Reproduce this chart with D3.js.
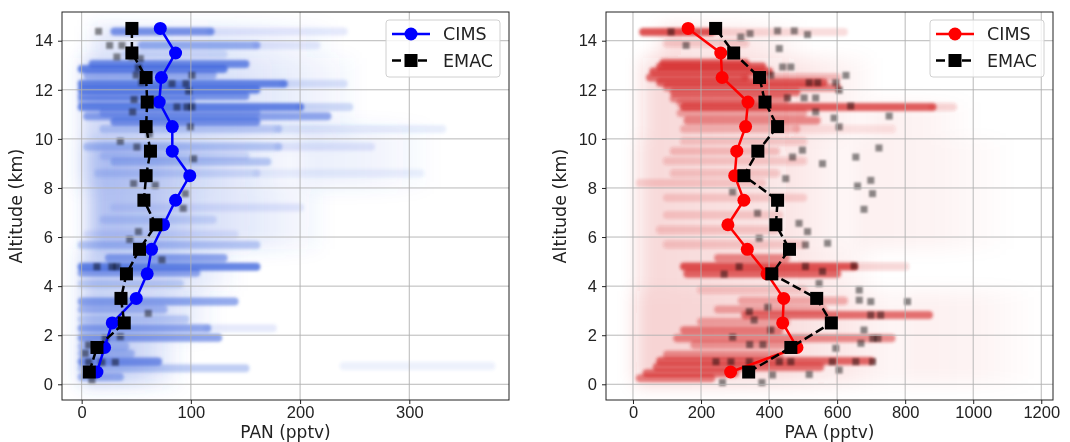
<!DOCTYPE html>
<html>
<head>
<meta charset="utf-8">
<script src="https://cdn.jsdelivr.net/npm/d3@7"></script>
<style>
  body { margin: 0; background: #fff; }
  svg { font-family: "DejaVu Sans", sans-serif; }
</style>
</head>
<body>
<svg id="chart" width="1070" height="442"></svg>
<script>
// profile altitudes (km)
const altitudes = [0.5, 1.5, 2.5, 3.5, 4.5, 5.5, 6.5, 7.5, 8.5, 9.5, 10.5, 11.5, 12.5, 13.5, 14.5];

// PAN profiles (pptv)
const panCims = [14, 21, 28, 50, 60, 64, 75, 86, 99, 83, 83, 71, 73, 86, 72];
const panEmac = [7, 14, 39, 36, 41, 53, 68, 57, 59, 63, 59, 60, 59, 46, 46];

// PAA profiles (pptv)
const paaCims = [287, 482, 440, 443, 394, 336, 279, 326, 299, 305, 331, 338, 262, 258, 162];
const paaEmac = [340, 464, 583, 540, 408, 460, 420, 425, 326, 367, 425, 388, 372, 296, 243];

// CIMS flight legs: [altitude, from, to, density]
const panLegs = [
  [14.38, 30, 118, 0.75], [14.38, 118, 240, 0.15], [13.82, 55, 160, 0.55], [13.82, 160, 215, 0.15],
  [13.45, 40, 130, 0.2], [13.05, 10, 150, 0.8], [12.85, 0, 130, 0.85], [12.6, 5, 120, 0.5],
  [12.25, 0, 185, 0.85], [12.25, 185, 240, 0.2], [12.0, 0, 160, 0.85], [11.75, 0, 150, 0.7],
  [11.55, 0, 100, 0.5], [11.3, 0, 200, 0.85], [11.3, 200, 245, 0.25], [11.05, 20, 160, 0.45],
  [10.92, 5, 225, 0.6], [10.7, 30, 160, 0.75], [10.4, 20, 180, 0.3], [10.4, 180, 330, 0.12],
  [9.68, 5, 180, 0.35], [9.68, 180, 265, 0.15], [9.3, 20, 150, 0.2], [9.07, 30, 170, 0.35],
  [8.6, 15, 160, 0.2], [8.6, 160, 310, 0.1], [7.2, 30, 200, 0.15], [6.7, 20, 120, 0.2],
  [6.1, 5, 140, 0.15], [5.68, 0, 160, 0.35], [5.15, 25, 130, 0.6], [4.79, 0, 160, 0.85],
  [4.55, 0, 105, 0.6], [4.1, 0, 90, 0.25], [3.37, 0, 140, 0.6], [3.05, 0, 75, 0.45],
  [2.65, 0, 95, 0.3], [2.28, 0, 115, 0.6], [2.28, 115, 175, 0.15], [1.9, 0, 125, 0.65],
  [1.55, 0, 40, 0.4], [1.25, 0, 45, 0.4], [0.93, 0, 70, 0.75], [0.65, 0, 150, 0.35],
  [0.75, 240, 375, 0.1], [0.3, 0, 35, 0.5]
];
const paaLegs = [
  [14.35, 30, 230, 0.85], [14.35, 230, 620, 0.15], [13.9, 100, 330, 0.2], [13.1, 90, 330, 0.75],
  [12.95, 80, 380, 0.8], [12.75, 60, 400, 0.8], [12.5, 50, 330, 0.7], [12.5, 330, 600, 0.3],
  [12.3, 80, 560, 0.75], [12.1, 100, 600, 0.6], [11.9, 120, 480, 0.7], [11.65, 120, 450, 0.55],
  [11.45, 140, 360, 0.45], [11.3, 150, 880, 0.8], [11.3, 880, 940, 0.2], [11.05, 140, 500, 0.4],
  [10.75, 160, 540, 0.55], [10.4, 150, 480, 0.3], [10.4, 480, 760, 0.12], [9.9, 150, 500, 0.2],
  [9.5, 120, 420, 0.25], [9.1, 100, 500, 0.2], [8.6, 120, 420, 0.2], [8.2, 20, 380, 0.15],
  [7.6, 100, 500, 0.15], [6.9, 100, 430, 0.15], [6.3, 80, 420, 0.2], [5.7, 100, 500, 0.2],
  [5.15, 250, 450, 0.55], [4.8, 150, 650, 0.85], [4.8, 650, 800, 0.2], [4.5, 160, 600, 0.75],
  [3.85, 200, 500, 0.2], [3.4, 320, 620, 0.35], [3.05, 250, 560, 0.4], [2.82, 330, 870, 0.7],
  [2.55, 200, 450, 0.4], [2.2, 150, 430, 0.6], [1.88, 130, 760, 0.55], [1.6, 180, 480, 0.45],
  [1.2, 100, 430, 0.5], [0.95, 80, 700, 0.75], [0.7, 70, 550, 0.7], [0.45, 40, 300, 0.7],
  [0.25, 20, 230, 0.6]
];

// diffuse CIMS cloud: [altLo, altHi, from, to, density]
const panHaze = [
  [13.3, 14.6, 10, 230, 0.08], [9.9, 13.3, 0, 250, 0.12], [8.0, 9.9, 0, 200, 0.14],
  [8.0, 10.5, 200, 320, 0.05], [5.5, 8.0, 5, 220, 0.12], [5.5, 10.0, 10, 110, 0.12],
  [3.8, 5.5, 0, 140, 0.15], [2.0, 3.8, 0, 120, 0.15], [0.0, 2.0, 0, 90, 0.18]
];
const paaHaze = [
  [13.3, 14.6, 80, 500, 0.08], [10.0, 13.3, 30, 700, 0.12], [10.0, 11.5, 700, 1000, 0.04],
  [5.5, 10.0, 20, 650, 0.12], [5.5, 10.0, 650, 1100, 0.04], [3.8, 5.5, 20, 700, 0.12],
  [0.0, 3.8, 10, 800, 0.14], [0.0, 3.8, 800, 1180, 0.04]
];

// EMAC sampled points: [value, altitude]
const panEmacPts = [
  [15.5, 14.38], [25.6, 13.81], [36.9, 13.81], [32.3, 13.34], [46, 13.34], [53.7, 13.27],
  [82.7, 12.25], [95.5, 12.25], [98, 11.95], [101, 12.59], [87.3, 11.3], [96.4, 11.3],
  [101, 11.3], [99.5, 10.49], [46.7, 11.1], [35.4, 9.9], [50.6, 9.67], [102.5, 9.19],
  [47.6, 8.18], [67.4, 8.11], [94.9, 7.77], [93, 7.17], [52, 6.22], [73.5, 5.07],
  [14, 4.79], [27.7, 4.79], [32.3, 4.79], [61, 2.89], [35.4, 1.94], [21.6, 1.87],
  [6.4, 1.6], [3.3, 1.26], [30.8, 0.9], [18.5, 0.9], [6.4, 0.9], [9.4, 0.17],
  [52, 12.9], [50, 12.6], [55, 12.3], [48, 11.6], [66, 11.6], [62, 10.2], [44, 5.9]
];
const paaEmacPts = [
  [112, 14.36], [317, 14.15], [344, 14.29], [425, 14.4], [474, 14.4], [513, 14.25],
  [156, 13.81], [430, 13.68], [440, 12.93], [464, 12.93], [405, 12.59], [626, 12.59],
  [518, 12.29], [543, 12.29], [596, 12.29], [606, 11.98], [454, 11.67], [503, 11.67],
  [537, 11.67], [537, 11.1], [640, 11.34], [753, 10.93], [591, 10.85], [606, 10.49],
  [723, 9.63], [498, 9.54], [557, 8.99], [469, 9.26], [655, 9.26], [449, 8.38],
  [699, 8.31], [660, 8.08], [704, 7.77], [293, 7.84], [679, 7.13], [488, 6.56],
  [513, 6.22], [572, 5.75], [366, 6.97], [507, 5.68], [371, 5.95], [312, 4.79],
  [268, 4.49], [650, 4.82], [507, 4.8], [557, 4.6], [547, 4.11], [665, 3.84],
  [665, 3.43], [699, 3.37], [807, 3.37], [342, 2.96], [396, 3.14], [356, 2.62],
  [699, 2.82], [728, 2.82], [679, 2.21], [405, 2.21], [293, 1.92], [705, 1.87],
  [720, 1.87], [670, 1.67], [343, 1.62], [382, 1.62], [596, 1.47], [244, 0.92],
  [288, 0.92], [342, 0.92], [430, 0.92], [464, 0.92], [586, 0.92], [655, 0.92],
  [704, 0.92], [263, 0.07], [379, 0.07], [410, 0.38], [518, 0.4], [606, 0.58]
];

const yTicks = [0, 2, 4, 6, 8, 10, 12, 14];
const panTicks = [0, 100, 200, 300];
const paaTicks = [0, 200, 400, 600, 800, 1000, 1200];

const svg = d3.select('#chart');
const plotTop = 12, plotBottom = 400;

const defs = svg.append('defs');
defs.append('filter').attr('id', 'soft').attr('x', '-5%').attr('y', '-5%').attr('width', '110%').attr('height', '110%')
    .append('feGaussianBlur').attr('stdDeviation', 1.6);
defs.append('filter').attr('id', 'soft2').attr('x', '-5%').attr('y', '-5%').attr('width', '110%').attr('height', '110%')
    .append('feGaussianBlur').attr('stdDeviation', 0.8);
defs.append('filter').attr('id', 'haze').attr('x', '-20%').attr('y', '-20%').attr('width', '140%').attr('height', '140%')
    .append('feGaussianBlur').attr('stdDeviation', 9);

function drawPanel(opt) {
    const x = d3.scaleLinear().domain(opt.xDomain).range([opt.left, opt.right]);
    const y = d3.scaleLinear().domain([-0.64, 15.17]).range([plotBottom, plotTop]);
    const g = svg.append('g');

    defs.append('clipPath').attr('id', 'clip' + opt.id)
        .append('rect').attr('x', opt.left).attr('y', plotTop)
        .attr('width', opt.right - opt.left).attr('height', plotBottom - plotTop);

    const grad = defs.append('linearGradient').attr('id', 'fade' + opt.id);
    grad.append('stop').attr('offset', '0%').attr('stop-color', opt.cloudColor).attr('stop-opacity', 1);
    grad.append('stop').attr('offset', '55%').attr('stop-color', opt.cloudColor).attr('stop-opacity', 0.75);
    grad.append('stop').attr('offset', '100%').attr('stop-color', opt.cloudColor).attr('stop-opacity', 0.1);

    const cloud = g.append('g').attr('clip-path', 'url(#clip' + opt.id + ')');

    cloud.append('g').attr('filter', 'url(#haze)')
        .selectAll('rect').data(opt.haze).enter().append('rect')
        .attr('x', d => x(d[2]))
        .attr('y', d => y(d[1]))
        .attr('width', d => x(d[3]) - x(d[2]))
        .attr('height', d => y(d[0]) - y(d[1]))
        .attr('fill', 'url(#fade' + opt.id + ')')
        .attr('opacity', d => d[4] * opt.hazeGain);

    cloud.append('g').attr('filter', 'url(#soft)')
        .selectAll('line').data(opt.legs).enter().append('line')
        .attr('x1', d => x(d[1]))
        .attr('x2', d => x(d[2]))
        .attr('y1', d => y(d[0]))
        .attr('y2', d => y(d[0]))
        .attr('stroke', opt.cloudColor)
        .attr('stroke-width', 8)
        .attr('stroke-linecap', 'round')
        .attr('opacity', d => d[3] * 0.9);

    cloud.append('g').attr('filter', 'url(#soft2)')
        .selectAll('rect').data(opt.emacPts).enter().append('rect')
        .attr('x', d => x(d[0]) - 3.5)
        .attr('y', d => y(d[1]) - 3.5)
        .attr('width', 7).attr('height', 7)
        .attr('fill', '#000')
        .attr('opacity', 0.45);

    // grid
    g.append('g').selectAll('line').data(opt.xTicks).enter().append('line')
        .attr('x1', d => x(d)).attr('x2', d => x(d))
        .attr('y1', plotTop).attr('y2', plotBottom)
        .attr('stroke', '#b0b0b0').attr('stroke-width', 0.9);
    g.append('g').selectAll('line').data(yTicks).enter().append('line')
        .attr('x1', opt.left).attr('x2', opt.right)
        .attr('y1', d => y(d)).attr('y2', d => y(d))
        .attr('stroke', '#b0b0b0').attr('stroke-width', 0.9);

    // axes
    const xAxis = g.append('g').attr('transform', `translate(0,${plotBottom})`)
        .call(d3.axisBottom(x).tickValues(opt.xTicks).tickSize(4).tickPadding(2.5).tickFormat(d3.format('d')));
    const yAxis = g.append('g').attr('transform', `translate(${opt.left},0)`)
        .call(d3.axisLeft(y).tickValues(yTicks).tickSize(4).tickPadding(5));
    [xAxis, yAxis].forEach(a => {
        a.select('.domain').remove();
        a.selectAll('text').attr('font-size', 16.5).attr('fill', '#222');
        a.selectAll('line').attr('stroke', '#222');
    });

    g.append('rect')
        .attr('x', opt.left).attr('y', plotTop)
        .attr('width', opt.right - opt.left).attr('height', plotBottom - plotTop)
        .attr('fill', 'none').attr('stroke', '#222').attr('stroke-width', 1);

    g.append('text')
        .attr('x', (opt.left + opt.right) / 2).attr('y', 438)
        .attr('text-anchor', 'middle').attr('font-size', 17).attr('fill', '#222')
        .text(opt.xLabel);
    g.append('text')
        .attr('transform', `translate(${opt.left - 40},${(plotTop + plotBottom) / 2}) rotate(-90)`)
        .attr('text-anchor', 'middle').attr('font-size', 17.5).attr('fill', '#222')
        .text('Altitude (km)');

    // profiles
    const line = d3.line().x(d => x(d[0])).y(d => y(d[1]));
    const cims = opt.cims.map((v, i) => [v, altitudes[i]]);
    const emac = opt.emac.map((v, i) => [v, altitudes[i]]);

    g.append('path').datum(cims).attr('d', line)
        .attr('fill', 'none').attr('stroke', opt.lineColor).attr('stroke-width', 2.5);
    g.append('g').selectAll('circle').data(cims).enter().append('circle')
        .attr('cx', d => x(d[0])).attr('cy', d => y(d[1])).attr('r', 6.5)
        .attr('fill', opt.lineColor);

    g.append('path').datum(emac).attr('d', line)
        .attr('fill', 'none').attr('stroke', '#000').attr('stroke-width', 2.5)
        .attr('stroke-dasharray', '9,4');
    g.append('g').selectAll('rect').data(emac).enter().append('rect')
        .attr('x', d => x(d[0]) - 6.5).attr('y', d => y(d[1]) - 6.5)
        .attr('width', 13).attr('height', 13).attr('fill', '#000');

    // legend
    const lx = opt.right - 123, ly = 20;
    const leg = g.append('g').attr('transform', `translate(${lx},${ly})`);
    leg.append('rect').attr('width', 114).attr('height', 57).attr('rx', 3)
        .attr('fill', '#fff').attr('fill-opacity', 0.8).attr('stroke', '#d0d0d0');
    leg.append('line').attr('x1', 6).attr('x2', 44).attr('y1', 14).attr('y2', 14)
        .attr('stroke', opt.lineColor).attr('stroke-width', 2.5);
    leg.append('circle').attr('cx', 25).attr('cy', 14).attr('r', 6.5).attr('fill', opt.lineColor);
    leg.append('line').attr('x1', 6).attr('x2', 44).attr('y1', 40.5).attr('y2', 40.5)
        .attr('stroke', '#000').attr('stroke-width', 2.5).attr('stroke-dasharray', '9,4');
    leg.append('rect').attr('x', 18.5).attr('y', 34).attr('width', 13).attr('height', 13).attr('fill', '#000');
    leg.append('text').attr('x', 57).attr('y', 20).attr('font-size', 17.5).attr('fill', '#222').text('CIMS');
    leg.append('text').attr('x', 57).attr('y', 46.5).attr('font-size', 17.5).attr('fill', '#222').text('EMAC');
}

drawPanel({
    id: 'pan', left: 62, right: 509, xDomain: [-18, 391.3], xTicks: panTicks,
    xLabel: 'PAN (pptv)', cims: panCims, emac: panEmac,
    legs: panLegs, haze: panHaze, emacPts: panEmacPts,
    cloudColor: '#3c63dc', lineColor: '#0000ff', hazeGain: 2.0
});
drawPanel({
    id: 'paa', left: 606, right: 1053, xDomain: [-79.3, 1234.5], xTicks: paaTicks,
    xLabel: 'PAA (pptv)', cims: paaCims, emac: paaEmac,
    legs: paaLegs, haze: paaHaze, emacPts: paaEmacPts,
    cloudColor: '#d42424', lineColor: '#ff0000', hazeGain: 1.5
});
</script>
</body>
</html>
